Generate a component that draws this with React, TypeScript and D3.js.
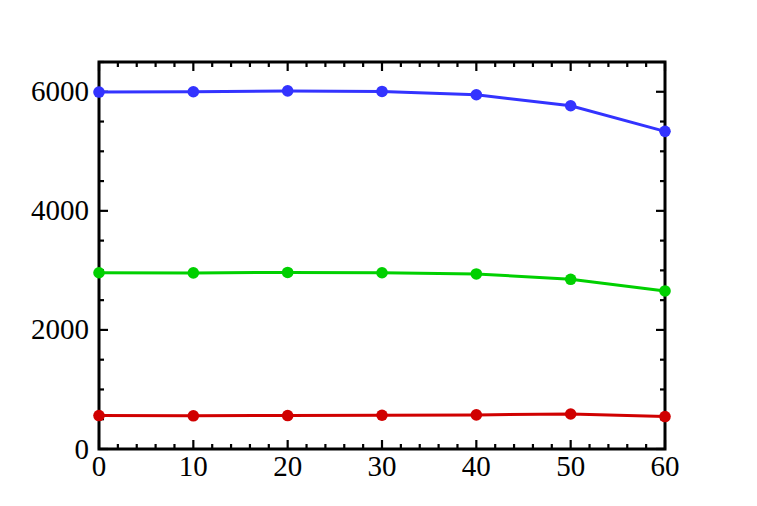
import React from "react";
import * as d3 from "d3";

const xValues = [0, 10, 20, 30, 40, 50, 60];
const blueSeries = [5995, 6000, 6015, 6005, 5950, 5765, 5335];
const greenSeries = [2960, 2958, 2965, 2960, 2940, 2850, 2655];
const redSeries = [562, 558, 562, 567, 573, 588, 545];
const xTickLabels = [0, 10, 20, 30, 40, 50, 60];
const yTickLabels = [0, 2000, 4000, 6000];

const W = 757;
const H = 506;
const left = 99;
const right = 665;
const top = 62;
const bottom = 449;

export default function App() {
  const x = d3.scaleLinear().domain([0, 60]).range([left, right]);
  const y = d3.scaleLinear().domain([0, 6500]).range([bottom, top]);

  const line = d3
    .line<number>()
    .x((_, i) => x(xValues[i]))
    .y((d) => y(d));

  const series = [
    { data: redSeries, color: "#d00000" },
    { data: greenSeries, color: "#00d000" },
    { data: blueSeries, color: "#3333ff" },
  ];

  const xMinor = d3.range(0, 60.01, 2);
  const yMinor = d3.range(0, 6500.01, 500);
  const font = "'Liberation Serif', 'Times New Roman', serif";

  return (
    <svg
      width={W}
      height={H}
      style={{ position: "absolute", left: 0, top: 0, background: "#fff" }}
    >
      {xMinor.map((v) => {
        const major = v % 10 === 0;
        const len = major ? 9 : 5;
        return (
          <g key={"xt" + v} stroke="#000" strokeWidth={2.2}>
            <line x1={x(v)} x2={x(v)} y1={bottom} y2={bottom - len} />
            <line x1={x(v)} x2={x(v)} y1={top} y2={top + len} />
          </g>
        );
      })}
      {yMinor.map((v) => {
        const major = v % 2000 === 0;
        const len = major ? 9 : 5;
        return (
          <g key={"yt" + v} stroke="#000" strokeWidth={2.2}>
            <line x1={left} x2={left + len} y1={y(v)} y2={y(v)} />
            <line x1={right} x2={right - len} y1={y(v)} y2={y(v)} />
          </g>
        );
      })}
      <rect
        x={left}
        y={top}
        width={right - left}
        height={bottom - top}
        fill="none"
        stroke="#000"
        strokeWidth={3}
      />
      {xTickLabels.map((v) => (
        <text
          key={"xl" + v}
          x={x(v)}
          y={bottom + 27}
          textAnchor="middle"
          fontFamily={font}
          fontSize={29}
          fill="#000"
        >
          {v}
        </text>
      ))}
      {yTickLabels.map((v) => (
        <text
          key={"yl" + v}
          x={left - 10}
          y={y(v) + 9.5}
          textAnchor="end"
          fontFamily={font}
          fontSize={29}
          fill="#000"
        >
          {v}
        </text>
      ))}
      {series.map((s, si) => (
        <g key={"s" + si}>
          <path
            d={line(s.data) || ""}
            fill="none"
            stroke={s.color}
            strokeWidth={3}
          />
          {s.data.map((d, i) => (
            <circle
              key={i}
              cx={x(xValues[i])}
              cy={y(d)}
              r={5.8}
              fill={s.color}
            />
          ))}
        </g>
      ))}
    </svg>
  );
}
